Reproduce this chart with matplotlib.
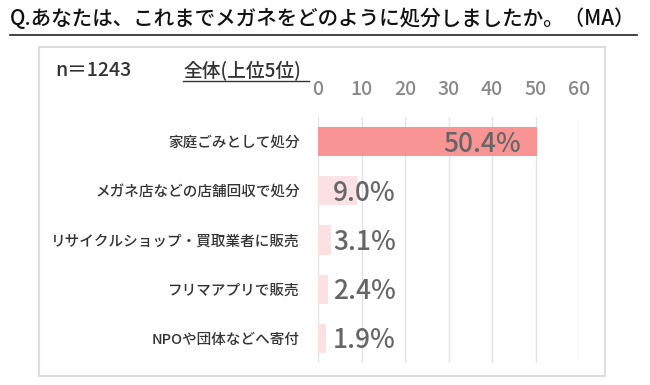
import matplotlib
matplotlib.use("Agg")
import matplotlib.pyplot as plt
from matplotlib.patches import Rectangle
from matplotlib.lines import Line2D

plt.rcParams['font.family'] = ['Noto Sans CJK JP', 'DejaVu Sans']
plt.rcParams['font.weight'] = 'medium'

# データ
categories = ["家庭ごみとして処分", "メガネ店などの店舗回収で処分",
              "リサイクルショップ・買取業者に販売", "フリマアプリで販売",
              "NPOや団体などへ寄付"]
values = [50.4, 9.0, 3.1, 2.4, 1.9]
ticks = [0, 10, 20, 30, 40, 50, 60]

fig = plt.figure(figsize=(6.5, 3.85), dpi=100)

# タイトルと下線
fig.text(10/650, 1 - 19/385, "Q.あなたは、これまでメガネをどのように処分しましたか。（MA）",
         fontsize=14.8, color="#111111", va="center", ha="left", fontweight="medium")
fig.add_artist(Line2D([10/650, 637/650], [1 - 35/385, 1 - 35/385],
                      color="#222222", lw=1.2))

# 外枠
fig.add_artist(Rectangle((39/650, 1 - 376/385), (605 - 39)/650, (376 - 47)/385,
                         transform=fig.transFigure, fill=False,
                         edgecolor="#dddddd", lw=1.5))

fig.text(55/650, 1 - 70/385, "n＝1243", fontsize=14, color="#333333",
         va="center", ha="left")
fig.text(183/650, 1 - 70/385, "全体(上位5位)", fontsize=13.5, color="#333333",
         va="center", ha="left")
fig.add_artist(Line2D([183/650, 309/650], [1 - 81/385, 1 - 81/385],
                      color="#333333", lw=1))

ax = fig.add_axes([318/650, 1 - 363/385, (579 - 318)/650, (363 - 117)/385])
y = list(range(len(categories)))
colors = ["#f99494"] + ["#fbe1e3"] * (len(values) - 1)
ax.barh(y, values, height=0.59, color=colors, zorder=2)
ax.set_xlim(0, 60)
ax.set_ylim(len(categories) - 0.5, -0.5)
ax.set_xticks(ticks)
ax.xaxis.tick_top()
ax.tick_params(axis="x", length=0, pad=13, labelsize=14, labelcolor="#888888")
ax.set_yticks(y)
ax.set_yticklabels(categories)
ax.tick_params(axis="y", length=0, pad=13, labelsize=10.5, labelcolor="#333333")
ax.grid(axis="x", color="#e3e3e3", lw=1, zorder=1)
for s in ax.spines.values():
    s.set_visible(False)

for i, v in enumerate(values):
    if i == 0:
        ax.text(v - 3.7, i + 0.05, f"{v:.1f}%", ha="right", va="center",
                fontsize=19, color="#666666", zorder=3)
    else:
        ax.text(3.5, i + 0.05, f"{v:.1f}%", ha="left", va="center",
                fontsize=19, color="#666666", zorder=3)

fig.savefig("out.png", dpi=100)
